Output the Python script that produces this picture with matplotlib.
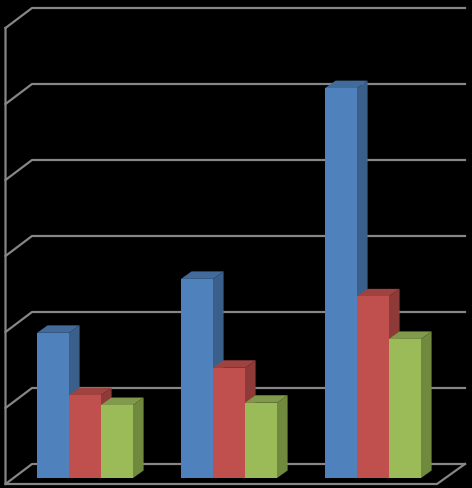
"""
Clustered 3D-look column chart on a black background, no text labels.
"""

import matplotlib

matplotlib.use("Agg")
import matplotlib.pyplot as plt

# values (one gridline step = 1 unit)
groups = [0, 1, 2]
series_a = [1.91, 2.62, 5.13]
series_b = [1.09, 1.45, 2.39]
series_c = [0.96, 0.99, 1.83]
grid_levels = [0, 1, 2, 3, 4, 5, 6]

W, H = 472, 489
GROUP_PX = 144.0  # distance between groups in pixels
UNIT_PX = 76.0  # one value unit in pixels
X0_PX, Y0_PX = 85.0, 479.0  # pixel position of group 0, value 0

BAR_W = 32 / GROUP_PX
DX = 10.6 / GROUP_PX  # bar depth
DY = 7.5 / UNIT_PX

# back wall and floor, as offsets from the bar baseline
WALL_Y = 14 / UNIT_PX
FRONT_Y = -6 / UNIT_PX
WALL_L = (32 - X0_PX) / GROUP_PX
WALL_R = (465 - X0_PX) / GROUP_PX
FRONT_L = (5.5 - X0_PX) / GROUP_PX
FRONT_R = (437 - X0_PX) / GROUP_PX
STEP_Y = 20 / UNIT_PX

GRID_COLOR = "#868686"
GRID_LW = 1.6


def draw_bar(ax, left, value, front, side, top, z):
    right = left + BAR_W
    ax.fill(
        [right, right + DX, right + DX, right],
        [0, DY, value + DY, value],
        color=side, lw=0, zorder=z,
    )
    ax.fill(
        [left, left + DX, right + DX, right],
        [value, value + DY, value + DY, value],
        color=top, lw=0, zorder=z,
    )
    ax.fill(
        [left, right, right, left],
        [0, 0, value, value],
        color=front, lw=0, zorder=z,
    )


fig = plt.figure(figsize=(W / 100, H / 100), dpi=100, facecolor="black")
ax = fig.add_axes([0, 0, 1, 1])
ax.set_facecolor("black")
ax.set_xlim(-X0_PX / GROUP_PX, (W - X0_PX) / GROUP_PX)
ax.set_ylim((Y0_PX - H) / UNIT_PX, Y0_PX / UNIT_PX)
ax.axis("off")

# gridlines on the back wall, each with its slanted part on the side wall
for level in grid_levels:
    y = level + WALL_Y
    ax.plot(
        [FRONT_L, WALL_L, WALL_R],
        [y - STEP_Y, y, y],
        color=GRID_COLOR, lw=GRID_LW, solid_joinstyle="miter", zorder=1,
    )

# left wall edge and floor front edge
ax.plot(
    [FRONT_L, FRONT_L, FRONT_R, WALL_R],
    [grid_levels[-1] + WALL_Y - STEP_Y, FRONT_Y, FRONT_Y, WALL_Y],
    color=GRID_COLOR, lw=GRID_LW, solid_joinstyle="miter", zorder=1,
)

# bars
styles = [
    (series_a, "#4F81BD", "#3A5F8B", "#426A9A"),
    (series_b, "#C0504D", "#8E3A38", "#A04340"),
    (series_c, "#9BBB59", "#71893F", "#81994A"),
]
z = 2
for g in groups:
    for i, (values, front, side, top) in enumerate(styles):
        left = g + (i - 1.5) * BAR_W
        draw_bar(ax, left, values[g], front, side, top, z)
        z += 1

fig.savefig("out.png", dpi=100, facecolor="black")
